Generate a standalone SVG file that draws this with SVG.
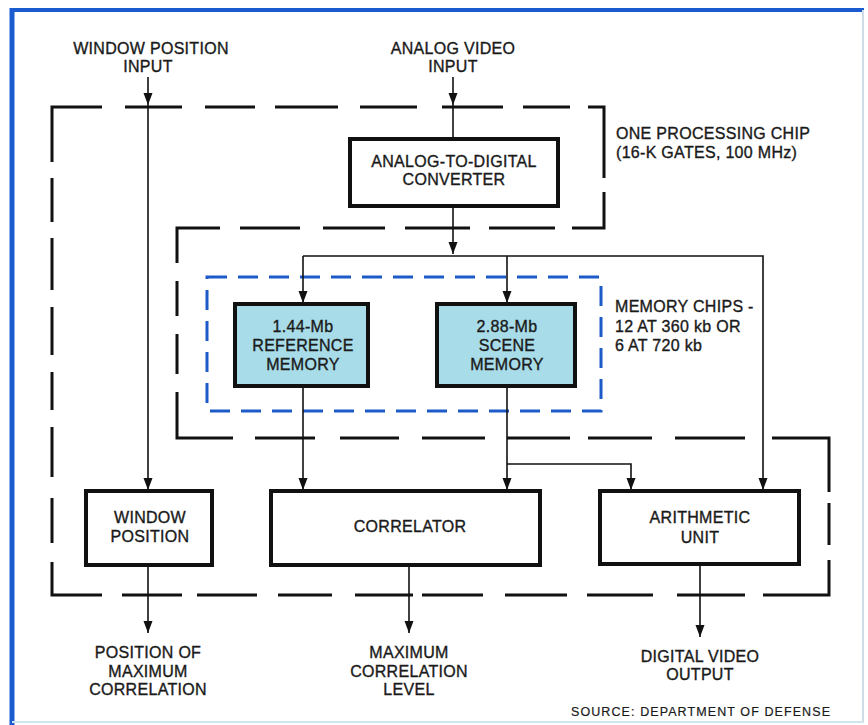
<svg xmlns="http://www.w3.org/2000/svg" width="868" height="725" viewBox="0 0 868 725">
  <style>
    .lbl { font-family: "Liberation Sans", Arial, sans-serif; font-size: 16px; fill: #1a1a1a; stroke: #1a1a1a; stroke-width: 0.35; letter-spacing: 0.3px; }
    .mid { text-anchor: middle; }
    .box { fill: #ffffff; stroke: #111111; stroke-width: 4; }
    .mem { fill: #a8dce8; stroke: #111111; stroke-width: 4; }
    .wire { fill: none; stroke: #111111; stroke-width: 1.6; }
    .chip { fill: none; stroke: #111111; stroke-width: 3; stroke-linecap: butt; }
    .memchips { fill: none; stroke: #1d5bc9; stroke-width: 3; stroke-dasharray: 20 11; }
  </style>
  <defs>
    <marker id="arrow" markerUnits="userSpaceOnUse" markerWidth="14" markerHeight="12" refX="12" refY="4.5" orient="auto">
      <path d="M0,0 L12,4.5 L0,9 Z" fill="#111111"/>
    </marker>
  </defs>

  <rect x="0" y="0" width="868" height="725" fill="#ffffff"/>

  <!-- page frame -->
  <g id="frame">
    <line x1="12" y1="10" x2="864" y2="10" stroke="#1a5cd0" stroke-width="4"/>
    <line x1="12" y1="8" x2="12" y2="725" stroke="#1a5cd0" stroke-width="5"/>
    <line x1="863" y1="10" x2="863" y2="722" stroke="#cfdde8" stroke-width="2"/>
    <line x1="12" y1="722" x2="864" y2="722" stroke="#cfe6ee" stroke-width="2"/>
  </g>

  <!-- processing-chip boundary, drawn dash by dash -->
  <g id="processing-chip-boundary" class="chip">
    <path d="M52,120 V107 H102"/>
    <path d="M125,107 H182 M205,107 H255 M275,107 H338 M360,107 H417 M442,107 H503 M523,107 H570"/>
    <path d="M588,107 H604 V178"/>
    <path d="M604,192 V228 H572"/>
    <path d="M555,228 H489 M470,228 H405 M385,228 H323 M300,228 H240"/>
    <path d="M220,228 H177 V263"/>
    <path d="M177,281 V316 M177,334 V374"/>
    <path d="M177,392 V438 H233"/>
    <path d="M255,438 H315 M340,438 H399 M422,438 H485 M507,438 H570 M588,438 H652 M675,438 H745"/>
    <path d="M772,438 H829 V492"/>
    <path d="M829,503 V545"/>
    <path d="M829,560 V595 H763"/>
    <path d="M745,595 H677 M653,595 H587 M567,595 H505 M483,595 H422 M413,595 H355 M332,595 H278 M257,595 H197 M182,595 H122"/>
    <path d="M102,595 H52 V562"/>
    <path d="M52,543 V498 M52,477 V427 M52,410 V372 M52,355 V307 M52,290 V238 M52,222 V178 M52,162 V120"/>
  </g>
  <g id="processing-chip-label">
    <text class="lbl" x="616" y="139">ONE PROCESSING CHIP</text>
    <text class="lbl" x="616" y="158">(16-K GATES, 100 MHz)</text>
  </g>

  <!-- memory-chip boundary -->
  <g id="memory-chips-boundary">
    <rect class="memchips" x="207" y="277" width="394" height="134"/>
    <text class="lbl" x="615" y="312">MEMORY CHIPS -</text>
    <text class="lbl" x="615" y="332">12 AT 360 kb OR</text>
    <text class="lbl" x="615" y="351">6 AT 720 kb</text>
  </g>

  <!-- connectors -->
  <g id="connectors" class="wire">
    <line x1="148" y1="77" x2="148" y2="105" marker-end="url(#arrow)"/>
    <line x1="148" y1="105" x2="148" y2="490" marker-end="url(#arrow)"/>
    <line x1="453" y1="77" x2="453" y2="105" marker-end="url(#arrow)"/>
    <line x1="453" y1="105" x2="453" y2="139"/>
    <line x1="453" y1="207" x2="453" y2="254" marker-end="url(#arrow)"/>
    <polyline points="303,256 763,256 763,490" marker-end="url(#arrow)"/>
    <line x1="303" y1="256" x2="303" y2="303" marker-end="url(#arrow)"/>
    <line x1="507" y1="256" x2="507" y2="303" marker-end="url(#arrow)"/>
    <line x1="303" y1="386" x2="303" y2="490" marker-end="url(#arrow)"/>
    <line x1="507" y1="386" x2="507" y2="490" marker-end="url(#arrow)"/>
    <polyline points="507,464 631,464 631,490" marker-end="url(#arrow)"/>
    <line x1="148" y1="565" x2="148" y2="633" marker-end="url(#arrow)"/>
    <line x1="409" y1="565" x2="409" y2="633" marker-end="url(#arrow)"/>
    <line x1="700" y1="564" x2="700" y2="637" marker-end="url(#arrow)"/>
  </g>

  <!-- inputs -->
  <g id="window-position-input">
    <text class="lbl mid" x="151" y="54">WINDOW POSITION</text>
    <text class="lbl mid" x="148" y="72">INPUT</text>
  </g>
  <g id="analog-video-input">
    <text class="lbl mid" x="453" y="54">ANALOG VIDEO</text>
    <text class="lbl mid" x="453" y="72">INPUT</text>
  </g>

  <!-- blocks -->
  <g id="adc">
    <rect class="box" x="350" y="139" width="208" height="67"/>
    <text class="lbl mid" x="454" y="167">ANALOG-TO-DIGITAL</text>
    <text class="lbl mid" x="454" y="185">CONVERTER</text>
  </g>
  <g id="reference-memory">
    <rect class="mem" x="235" y="304" width="133" height="82"/>
    <text class="lbl mid" x="303" y="332">1.44-Mb</text>
    <text class="lbl mid" x="303" y="351">REFERENCE</text>
    <text class="lbl mid" x="303" y="370">MEMORY</text>
  </g>
  <g id="scene-memory">
    <rect class="mem" x="437" y="304" width="138" height="82"/>
    <text class="lbl mid" x="507" y="332">2.88-Mb</text>
    <text class="lbl mid" x="507" y="351">SCENE</text>
    <text class="lbl mid" x="507" y="370">MEMORY</text>
  </g>
  <g id="window-position">
    <rect class="box" x="86" y="491" width="126" height="74"/>
    <text class="lbl mid" x="150" y="523">WINDOW</text>
    <text class="lbl mid" x="150" y="542">POSITION</text>
  </g>
  <g id="correlator">
    <rect class="box" x="271" y="491" width="269" height="74"/>
    <text class="lbl mid" x="410" y="532">CORRELATOR</text>
  </g>
  <g id="arithmetic-unit">
    <rect class="box" x="600" y="491" width="199" height="73"/>
    <text class="lbl mid" x="700" y="523">ARITHMETIC</text>
    <text class="lbl mid" x="700" y="543">UNIT</text>
  </g>

  <!-- outputs -->
  <g id="position-output">
    <text class="lbl mid" x="148" y="658">POSITION OF</text>
    <text class="lbl mid" x="148" y="677">MAXIMUM</text>
    <text class="lbl mid" x="148" y="695">CORRELATION</text>
  </g>
  <g id="level-output">
    <text class="lbl mid" x="409" y="658">MAXIMUM</text>
    <text class="lbl mid" x="409" y="677">CORRELATION</text>
    <text class="lbl mid" x="409" y="695">LEVEL</text>
  </g>
  <g id="video-output">
    <text class="lbl mid" x="700" y="662">DIGITAL VIDEO</text>
    <text class="lbl mid" x="700" y="680">OUTPUT</text>
  </g>

  <text x="571" y="716" font-family="Liberation Sans, Arial, sans-serif" font-size="12.5" fill="#1a1a1a" stroke="#1a1a1a" stroke-width="0.2" textLength="259" lengthAdjust="spacing">SOURCE: DEPARTMENT OF DEFENSE</text>
</svg>
